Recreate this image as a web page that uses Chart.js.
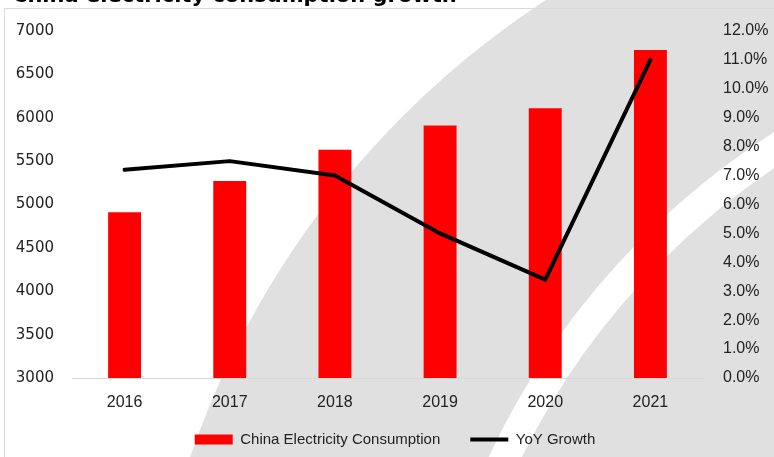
<!DOCTYPE html>
<html>
<head>
<meta charset="utf-8">
<title>China electricity consumption growth</title>
<script src="https://cdn.jsdelivr.net/npm/chart.js@4.4.1/dist/chart.umd.min.js"></script>
<style>
  html, body { margin: 0; padding: 0; background: #fff; overflow: hidden; }
  #wrap { position: relative; width: 774px; height: 457px; overflow: hidden; }
  #title {
    position: absolute; left: 12px; top: -15px;
    font: bold 21px "DejaVu Sans"; line-height: 21px;
    color: #000; white-space: nowrap;
  }
  canvas { position: absolute; left: 0; top: 0; }
</style>
</head>
<body>
<div id="wrap">
  <canvas id="chart" width="774" height="457"></canvas>
  <div id="title">China electricity consumption growth</div>
</div>
<script>
const years = ['2016', '2017', '2018', '2019', '2020', '2021'];
const consumption = [4910, 5270, 5630, 5910, 6110, 6780];
const yoyGrowth = [7.2, 7.5, 7.0, 5.0, 3.4, 11.0];

const textColor = '#222';
const labelFont = { family: 'Liberation Sans', size: 16 };

// grey swoosh watermark behind the chart, plus the outer frame
const backdrop = {
  id: 'backdrop',
  afterLayout(chart) {
    // year labels sit inside the legend's top padding, so don't clip them to the axis box
    chart.scales.x.bottom = chart.height;
  },
  beforeDraw(chart) {
    const ctx = chart.ctx;
    ctx.save();
    ctx.fillStyle = '#e0e0e0';
    ctx.beginPath();
    ctx.arc(1033, 746, 891, 0, Math.PI * 2);
    ctx.fill();
    ctx.strokeStyle = '#fff';
    ctx.lineWidth = 30;
    ctx.beginPath();
    ctx.arc(1191, 787, 761, 0, Math.PI * 2);
    ctx.stroke();
    ctx.lineWidth = 1;
    ctx.strokeStyle = '#d9d9d9';
    ctx.strokeRect(4.5, 8.5, 900, 900);
    ctx.restore();
  }
};

const ctx = document.getElementById('chart').getContext('2d');

new Chart(ctx, {
  type: 'bar',
  data: {
    labels: years,
    datasets: [{
      label: 'China Electricity Consumption',
      data: consumption,
      backgroundColor: '#ff0000',
      borderWidth: 0,
      pointStyle: 'rect',
      yAxisID: 'y',
      categoryPercentage: 1,
      barPercentage: 0.313,
      order: 2
    }, {
      type: 'line',
      label: 'YoY Growth',
      data: yoyGrowth,
      borderColor: '#000',
      backgroundColor: '#000',
      borderWidth: 4,
      borderCapStyle: 'round',
      borderJoinStyle: 'round',
      tension: 0,
      pointRadius: 0,
      pointStyle: 'line',
      yAxisID: 'y1',
      order: 1
    }]
  },
  options: {
    responsive: false,
    animation: false,
    layout: { padding: { left: 16, top: 31, right: 0, bottom: 0 } },
    plugins: {
      tooltip: { enabled: false },
      legend: {
        position: 'bottom',
        labels: {
          usePointStyle: true,
          pointStyleWidth: 38,
          boxHeight: 10,
          padding: 30,
          color: textColor,
          font: { family: 'Liberation Sans', size: 15 },
          sort: (a, b) => a.datasetIndex - b.datasetIndex
        }
      }
    },
    scales: {
      x: {
        grid: { display: false, drawTicks: false },
        border: { display: true, color: '#d9d9d9', width: 1 },
        ticks: { padding: 15, color: textColor, font: labelFont },
        afterFit(scale) { scale.height = 24; }
      },
      y: {
        position: 'left',
        min: 3000,
        max: 7000,
        grid: { display: false, drawTicks: false },
        border: { display: false },
        ticks: {
          stepSize: 500,
          padding: 18,
          color: textColor,
          font: { family: 'DejaVu Sans', size: 15 },
          callback: v => String(v)
        },
        afterFit(scale) { scale.width = 56; }
      },
      y1: {
        position: 'right',
        min: 0,
        max: 12,
        grid: { display: false, drawTicks: false },
        border: { display: false },
        ticks: {
          stepSize: 1,
          padding: 20,
          color: textColor,
          font: labelFont,
          callback: v => v.toFixed(1) + '%'
        },
        afterFit(scale) { scale.width = 71; }
      }
    }
  },
  plugins: [backdrop]
});
</script>
</body>
</html>
